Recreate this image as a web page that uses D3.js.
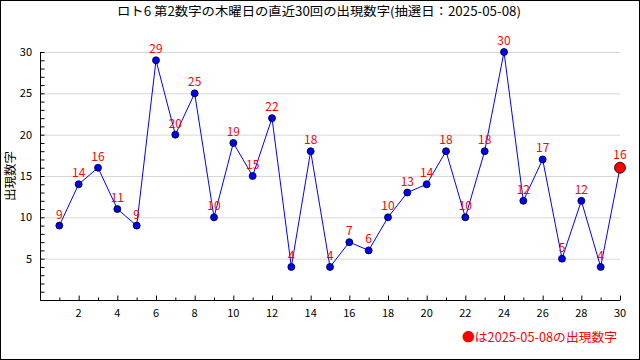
<!DOCTYPE html>
<html><head><meta charset="utf-8">
<script src="https://cdn.jsdelivr.net/npm/d3@7"></script>
<style>body{margin:0;background:#fff}svg{display:block}</style>
</head><body>
<svg id="c" width="640" height="360"></svg>
<script>
const draws = d3.range(1, 31);
const values = [9,14,16,11,9,29,20,25,10,19,15,22,4,18,4,7,6,10,13,14,18,10,18,30,12,17,5,12,4,16];
const xTicks = [2,4,6,8,10,12,14,16,18,20,22,24,26,28,30];
const yTicks = [5,10,15,20,25,30];
const title = "ロト6 第2数字の木曜日の直近30回の出現数字(抽選日：2025-05-08)";
const yLabel = "出現数字";
const legendText = "●は2025-05-08の出現数字";

const svg = d3.select("#c");
const font = "'Noto Sans CJK JP', 'DejaVu Sans', sans-serif";
svg.append("rect").attr("x",0.5).attr("y",0.5).attr("width",639).attr("height",359)
  .attr("fill","#fff").attr("stroke","#000");

const x = d3.scaleLinear().domain([0,30]).range([40,620]);
const y = d3.scaleLinear().domain([0,30]).range([300,52]);

// grid
svg.append("g").selectAll("line").data(yTicks).join("line")
  .attr("x1",x(0)).attr("x2",x(30)).attr("y1",d=>y(d)+0.5).attr("y2",d=>y(d)+0.5)
  .attr("stroke","#d8d8d8");

// y axis
const ya = svg.append("g").attr("transform",`translate(${x(0)+0.5},0)`)
  .call(d3.axisRight(y).tickValues(d3.range(1,31)).tickSize(4).tickFormat(""));
ya.select(".domain").attr("d",`M0,${y(30)}V${y(0)}`);
ya.selectAll(".tick line").attr("stroke","#000");
svg.append("g").selectAll("text").data(yTicks).join("text")
  .attr("x",x(0)-8).attr("y",d=>y(d)).attr("dy","0.35em").attr("text-anchor","end")
  .attr("font-family",font).attr("font-size",11).text(d=>d);

// x axis
const xa = svg.append("g").attr("transform",`translate(0,${y(0)+0.5})`)
  .call(d3.axisTop(x).tickValues(d3.range(1,31)).tickSize(4).tickFormat(""));
xa.select(".domain").attr("d",`M${x(0)},0H${x(30)}`);
xa.selectAll(".tick line").attr("stroke","#000").attr("y2",d=>d%2===0?-5:-3);
svg.append("g").selectAll("text").data(xTicks).join("text")
  .attr("x",d=>x(d)).attr("y",y(0)+17).attr("text-anchor","middle")
  .attr("font-family",font).attr("font-size",11).text(d=>d);

// line
const pts = draws.map((d,i)=>({d, v:values[i]}));
svg.append("path").datum(pts)
  .attr("d", d3.line().x(p=>x(p.d)).y(p=>y(p.v)))
  .attr("fill","none").attr("stroke","#0000ff").attr("stroke-width",1);

svg.append("g").selectAll("circle").data(pts).join("circle")
  .attr("cx",p=>x(p.d)).attr("cy",p=>y(p.v))
  .attr("r",(p,i)=>i===pts.length-1?5.5:3.5)
  .attr("fill",(p,i)=>i===pts.length-1?"#ff0000":"#0000ff")
  .attr("stroke","#000").attr("stroke-width",0.8);

svg.append("g").selectAll("text").data(pts).join("text")
  .attr("x",p=>x(p.d)).attr("y",(p,i)=>y(p.v)-(i===pts.length-1?9:7))
  .attr("text-anchor","middle").attr("fill","#ff0000")
  .attr("font-family",font).attr("font-size",12).text(p=>p.v);

// title
svg.append("text").attr("x",117).attr("y",16)
  .attr("textLength",404).attr("lengthAdjust","spacingAndGlyphs")
  .attr("font-family",font).attr("font-size",12.5).text(title);

// y label
svg.append("text").attr("transform",`translate(15,176) rotate(-90)`)
  .attr("text-anchor","middle").attr("font-family",font).attr("font-size",12.5).text(yLabel);

// legend
svg.append("text").attr("x",462).attr("y",342)
  .attr("textLength",155).attr("lengthAdjust","spacingAndGlyphs")
  .attr("fill","#ff0000").attr("font-family",font).attr("font-size",12.5).text(legendText);
</script>
</body></html>
